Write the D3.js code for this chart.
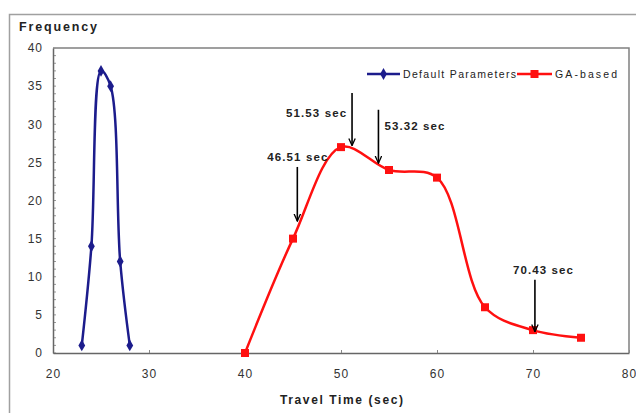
<!DOCTYPE html>
<html>
<head>
<meta charset="utf-8">
<script src="https://cdn.jsdelivr.net/npm/d3@7"></script>
<style>
  body { margin: 0; background: #fff; }
  svg { display: block; font-family: "Liberation Sans", Arial, sans-serif; }
</style>
</head>
<body>
<script>
// chart data
var defaultTime = [23, 24, 25, 26, 27, 28];
var defaultFreq = [1, 14, 37, 35, 12, 1];
var gaTime = [40, 45, 50, 55, 60, 65, 70, 75];
var gaFreq = [0, 15, 27, 24, 23, 6, 3, 2];
var xTicks = [20, 30, 40, 50, 60, 70, 80];
var yTicks = [0, 5, 10, 15, 20, 25, 30, 35, 40];
// annotation arrows: label, arrow x, arrow top, arrow tip (data units)
var noteLabels = ["46.51 sec", "51.53 sec", "53.32 sec", "70.43 sec"];
var noteX = [45.45, 51.15, 53.9, 70.2];
var noteTop = [24.4, 34.1, 31.9, 9.6];
var noteTip = [17.3, 27.2, 24.9, 2.8];

var width = 636;
var height = 413;
var margin = {left: 53, top: 48, right: 7, bottom: 60};

var svg = d3.select("body")
            .append("svg")
            .attr("width", width)
            .attr("height", height);

// outer chart frame
svg.append("rect")
   .attr("x", 9.5).attr("y", 14.5)
   .attr("width", 700).attr("height", 500)
   .attr("fill", "none")
   .attr("stroke", "#a0a0a0")
   .attr("stroke-width", 1.5);

var x = d3.scaleLinear().domain([20, 80]).range([margin.left, width - margin.right]);
var y = d3.scaleLinear().domain([0, 40]).range([height - margin.bottom, margin.top]);

// plot area border (top / right)
svg.append("path")
   .attr("d", `M${x(20)},${y(40)}H${x(80)}V${y(0)}`)
   .attr("fill", "none")
   .attr("stroke", "#808080")
   .attr("stroke-width", 1.5);

// minor y ticks inside
var minorY = d3.range(0, 41, 1);
svg.append("g")
   .attr("transform", `translate(${x(20)},0)`)
   .selectAll("line")
   .data(minorY)
   .join("line")
     .attr("x1", 0).attr("x2", 3)
     .attr("y1", d => y(d)).attr("y2", d => y(d))
     .attr("stroke", "#999");

var xAxis = svg.append("g")
   .attr("transform", `translate(0,${y(0)})`)
   .call(d3.axisBottom(x).tickValues(xTicks).tickSizeInner(-3).tickSizeOuter(0).tickPadding(16));
var yAxis = svg.append("g")
   .attr("transform", `translate(${x(20)},0)`)
   .call(d3.axisLeft(y).tickValues(yTicks).tickSizeInner(0).tickSizeOuter(0).tickPadding(10));

[xAxis, yAxis].forEach(function (a) {
  a.select(".domain").attr("stroke", "#666").attr("stroke-width", 1.5);
  a.selectAll(".tick line").attr("stroke", "#888");
  a.selectAll("text").attr("font-size", 12).attr("fill", "#333")
   .attr("letter-spacing", 1)
   .attr("font-family", "Liberation Sans, Arial, sans-serif");
});

svg.append("text")
   .attr("x", 19).attr("y", 31)
   .attr("font-size", 12.5).attr("font-weight", "bold").attr("fill", "#222")
   .attr("textLength", 78).attr("lengthAdjust", "spacing")
   .text("Frequency");
svg.append("text")
   .attr("x", 280).attr("y", 404)
   .attr("font-size", 12).attr("font-weight", "bold").attr("fill", "#222")
   .attr("textLength", 123).attr("lengthAdjust", "spacing")
   .text("Travel Time (sec)");

var line = d3.line().curve(d3.curveCatmullRom.alpha(0.5));
var blue = "#1c1c8c";
var red = "#ff1010";

svg.append("path")
   .attr("d", line(defaultTime.map((t, i) => [x(t), y(defaultFreq[i])])))
   .attr("fill", "none").attr("stroke", blue).attr("stroke-width", 2.5);
svg.append("path")
   .attr("d", line(gaTime.map((t, i) => [x(t), y(gaFreq[i])])))
   .attr("fill", "none").attr("stroke", red).attr("stroke-width", 2.5);

var diamond = d3.symbol().type(d3.symbolDiamond).size(40);
svg.append("g").selectAll("path")
   .data(defaultTime)
   .join("path")
     .attr("transform", (d, i) => `translate(${x(d)},${y(defaultFreq[i])})`)
     .attr("d", diamond).attr("fill", blue);
svg.append("g").selectAll("rect")
   .data(gaTime)
   .join("rect")
     .attr("x", d => x(d) - 4)
     .attr("y", (d, i) => y(gaFreq[i]) - 4)
     .attr("width", 8).attr("height", 8)
     .attr("fill", red);

// arrows
svg.append("defs").append("marker")
   .attr("id", "head")
   .attr("viewBox", "0 0 10 10")
   .attr("refX", 9).attr("refY", 5)
   .attr("markerWidth", 5).attr("markerHeight", 5)
   .attr("orient", "auto")
   .append("path")
     .attr("d", "M0,1L9,5L0,9")
     .attr("fill", "none").attr("stroke", "#000").attr("stroke-width", 1.6);

var notes = svg.append("g");
noteX.forEach(function (nx, i) {
  notes.append("line")
     .attr("x1", x(nx)).attr("x2", x(nx))
     .attr("y1", y(noteTop[i])).attr("y2", y(noteTip[i]))
     .attr("stroke", "#000").attr("stroke-width", 1.6)
     .attr("marker-end", "url(#head)");
});
// label placement relative to arrow tops
var labelDx = [-30, -66, 6, -22];
var labelDy = [-6, 24, 20, -6];
noteLabels.forEach(function (t, i) {
  notes.append("text")
     .attr("x", x(noteX[i]) + labelDx[i])
     .attr("y", y(noteTop[i]) + labelDy[i])
     .attr("font-size", 11.5).attr("font-weight", "bold").attr("fill", "#222")
     .attr("textLength", 60).attr("lengthAdjust", "spacing")
     .text(t);
});

// legend
var legend = svg.append("g").attr("transform", "translate(367,74)");
legend.append("line").attr("x1", 0).attr("x2", 33).attr("stroke", blue).attr("stroke-width", 2.5);
legend.append("path").attr("transform", "translate(16.5,0)").attr("d", diamond).attr("fill", blue);
legend.append("text").attr("x", 36).attr("y", 4).attr("font-size", 10.5).attr("fill", "#222")
   .attr("textLength", 113).attr("lengthAdjust", "spacing").text("Default Parameters");
legend.append("line").attr("x1", 150).attr("x2", 185).attr("stroke", red).attr("stroke-width", 2.5);
legend.append("rect").attr("x", 163.5).attr("y", -4).attr("width", 8).attr("height", 8).attr("fill", red);
legend.append("text").attr("x", 188).attr("y", 4).attr("font-size", 10.5).attr("fill", "#222")
   .attr("textLength", 62).attr("lengthAdjust", "spacing").text("GA-based");
</script>
</body>
</html>
